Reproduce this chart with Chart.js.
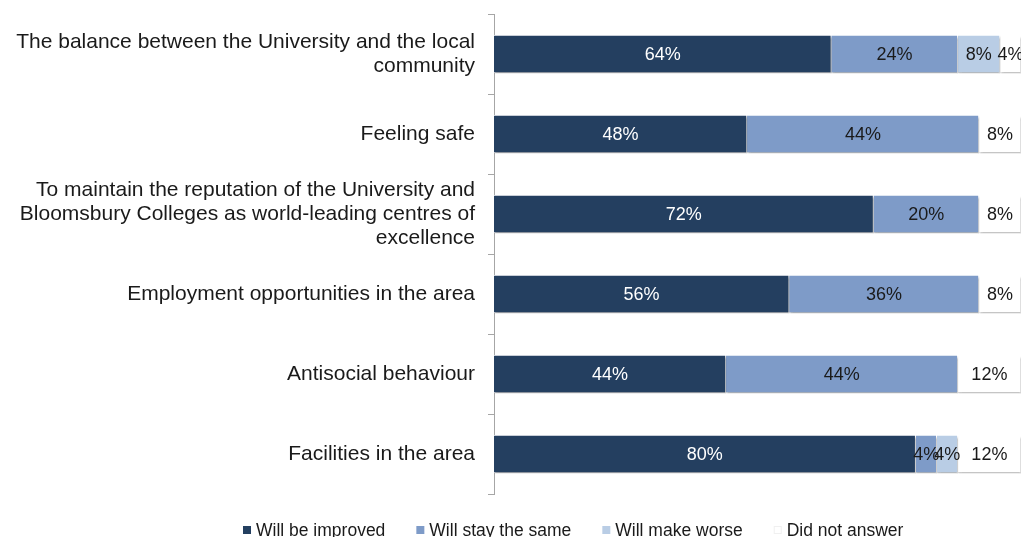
<!DOCTYPE html>
<html>
<head>
<meta charset="utf-8">
<script src="https://cdn.jsdelivr.net/npm/chart.js@4.4.1/dist/chart.umd.min.js"></script>
<style>
    html, body { margin: 0; padding: 0; background: #fff; }
    #wrap { width: 1021px; height: 537px; }
</style>
</head>
<body>
<div id="wrap"><canvas id="impactChart" width="1021" height="537"></canvas></div>
<script>
// survey answers, percent of respondents
const categories = [
    ["The balance between the University and the local", "community"],
    "Feeling safe",
    ["To maintain the reputation of the University and", "Bloomsbury Colleges as world-leading centres of", "excellence"],
    "Employment opportunities in the area",
    "Antisocial behaviour",
    "Facilities in the area"
];
const seriesNames = ["Will be improved", "Will stay the same", "Will make worse", "Did not answer"];
const improved = [64, 48, 72, 56, 44, 80];
const staySame = [24, 44, 20, 36, 44, 4];
const makeWorse = [8, 0, 0, 0, 0, 4];
const noAnswer = [4, 8, 8, 8, 12, 12];

const colors = ['#243f60', '#7e9bc8', '#b9cde5', '#ffffff'];
const labelColors = ['#ffffff', '#1a1a1a', '#1a1a1a', '#1a1a1a'];
const fontFamily = '"Liberation Sans", Arial, sans-serif';

// soft shadow under the bars
const barShadow = {
    id: 'barShadow',
    beforeDatasetsDraw: (chart) => {
        const ctx = chart.ctx;
        ctx.save();
        ctx.shadowColor = 'rgba(0,0,0,0.3)';
        ctx.shadowBlur = 2;
        ctx.shadowOffsetX = 1;
        ctx.shadowOffsetY = 2;
    },
    afterDatasetsDraw: (chart) => {
        chart.ctx.restore();
    }
};

// percentages in the middle of each segment
const segmentLabels = {
    id: 'segmentLabels',
    afterDatasetsDraw: (chart) => {
        const ctx = chart.ctx;
        ctx.save();
        ctx.font = '18px ' + fontFamily;
        ctx.textAlign = 'center';
        ctx.textBaseline = 'middle';
        chart.data.datasets.forEach((ds, i) => {
            const meta = chart.getDatasetMeta(i);
            meta.data.forEach((bar, j) => {
                const v = ds.data[j];
                if (!v) return;
                const c = bar.getCenterPoint();
                ctx.fillStyle = labelColors[i];
                ctx.fillText(v + '%', c.x, c.y + 1);
            });
        });
        ctx.restore();
    }
};

// legend row along the bottom edge
const bottomLegend = {
    id: 'bottomLegend',
    afterDraw: (chart) => {
        const ctx = chart.ctx;
        ctx.save();
        ctx.font = '17.5px ' + fontFamily;
        ctx.textBaseline = 'middle';
        let x = 243;
        const y = 530;
        chart.data.datasets.forEach((ds, i) => {
            ctx.fillStyle = ds.backgroundColor;
            ctx.fillRect(x, y - 4, 8, 8);
            if (i === 3) {
                ctx.strokeStyle = '#f0f0f0';
                ctx.lineWidth = 1;
                ctx.strokeRect(x + 0.5, y - 3.5, 7, 7);
            }
            ctx.fillStyle = '#1a1a1a';
            ctx.fillText(ds.label, x + 13, y + 1);
            x += 13 + ctx.measureText(ds.label).width + 31;
        });
        ctx.restore();
    }
};

const seriesValues = [improved, staySame, makeWorse, noAnswer];

const ctx = document.getElementById('impactChart').getContext('2d');
const myChart = new Chart(ctx, {
    type: 'bar',
    data: {
        labels: categories,
        datasets: seriesNames.map((name, i) => ({
            label: name,
            data: seriesValues[i],
            backgroundColor: colors[i],
            borderColor: '#ffffff',
            borderWidth: 1,
            borderSkipped: 'start',
            barThickness: 38
        }))
    },
    options: {
        indexAxis: 'y',
        responsive: false,
        animation: false,
        layout: {
            padding: { top: 14, bottom: 43, left: 0, right: 0 }
        },
        plugins: {
            legend: { display: false },
            tooltip: { enabled: false }
        },
        scales: {
            x: {
                stacked: true,
                display: false,
                min: 0,
                max: 100
            },
            y: {
                stacked: true,
                offset: true,
                afterFit: (scale) => {
                    // fixed label column, no extra room for label overflow
                    scale.width = 494;
                    scale.paddingTop = 0;
                    scale.paddingBottom = 0;
                },
                border: { display: true, color: '#a6a6a6', width: 1 },
                grid: {
                    offset: true,
                    drawOnChartArea: false,
                    drawTicks: true,
                    tickLength: 6,
                    color: '#a6a6a6'
                },
                ticks: {
                    padding: 13,
                    color: '#1a1a1a',
                    font: { family: fontFamily, size: 21, lineHeight: 1.15 }
                }
            }
        }
    },
    plugins: [barShadow, segmentLabels, bottomLegend]
});
</script>
</body>
</html>
